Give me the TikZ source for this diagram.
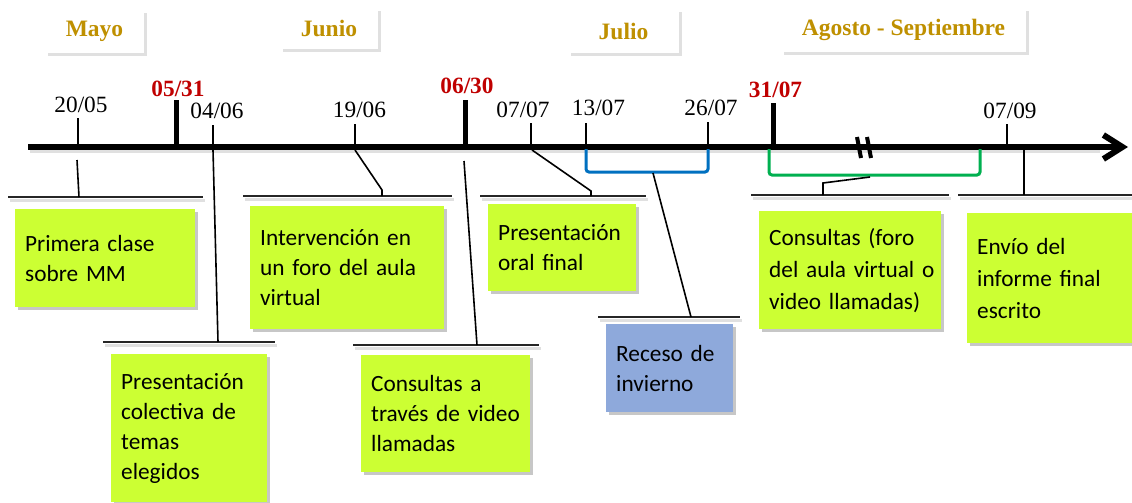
\documentclass[tikz,border=0pt]{standalone}
\usepackage{fontspec}
\setmainfont{Liberation Serif}
\newfontfamily\boxfont{Carlito}
\usetikzlibrary{arrows.meta,shadows}
\definecolor{lime}{RGB}{204,255,51}
\definecolor{receso}{RGB}{142,169,219}
\definecolor{gold}{RGB}{191,144,0}
\definecolor{datered}{RGB}{192,0,0}
\definecolor{brblue}{RGB}{0,112,192}
\definecolor{brgreen}{RGB}{0,176,80}
\begin{document}
\begin{tikzpicture}[x=1pt,y=-1pt,
  softshadow/.style={drop shadow={shadow xshift=3pt,shadow yshift=-3pt,opacity=0.22,fill=black}},
  lightshadow/.style={drop shadow={shadow xshift=3pt,shadow yshift=-3pt,opacity=0.12,fill=black}},
  note/.style={anchor=north west, fill=lime, inner xsep=10pt, inner ysep=0pt, align=left,
    font=\boxfont\fontsize{23.3}{30}\selectfont, softshadow},
  month/.style={fill=white, inner sep=0pt, text=gold,
    font=\bfseries\fontsize{23.5}{28}\selectfont, lightshadow},
  date/.style={inner sep=0pt, font=\fontsize{23.3}{28}\selectfont},
  keydate/.style={inner sep=0pt, text=datered, font=\bfseries\fontsize{23.3}{28}\selectfont},
  tick/.style={line width=2pt},
  keytick/.style={line width=5pt},
  rule/.style={line width=2pt, black!85},
  link/.style={line width=1.6pt},
  bracket/.style={line width=3pt, rounded corners=3pt},
]
\fill[white] (0,0) rectangle (1132,503);
\useasboundingbox (0,0) rectangle (1132,503);

% month headers
\node[month, minimum width=99pt, minimum height=43pt] (mayo) at (94.5,31.5) {Mayo};
\node[month, minimum width=98pt, minimum height=41pt] (junio) at (329,28.5) {Junio};
\node[month, minimum width=111pt, minimum height=44pt] (julio) at (623.5,31) {Julio};
\node[month, minimum width=245pt, minimum height=44pt] (agosto) at (903.5,30) {Agosto - Septiembre};

% timeline
\coordinate (tl0) at (28,147);
\coordinate (tl1) at (1128,147);
\draw[line width=3pt, black!12] (30,151) -- (1100,151);
\draw[line width=6pt, -{Straight Barb[length=19pt,width=24pt]}] (tl0) -- (tl1);

% break mark
\draw[line width=4pt] (857,137) -- (861,158);
\draw[line width=4pt] (867,137) -- (871,158);

% ticks and dates
\foreach \n/\x/\t in {a/78/118, c/213/125, d/355/124, f/531/123, g/586/123, h/708/122, j/1007/124}{
  \coordinate (tk\n) at (\x,147);
  \draw[tick] (tk\n) -- (\x,\t);
}
\foreach \n/\x/\t in {b/176/100, e/465/100, i/773/103}{
  \coordinate (tk\n) at (\x,147);
  \draw[keytick] (tk\n) -- (\x,\t);
}
\node[date] (d2005) at (81,105) {20/05};
\node[keydate] (d0531) at (178,89) {05/31};
\node[date] (d0406) at (217,111) {04/06};
\node[date] (d1906) at (359.5,110) {19/06};
\node[keydate] (d0630) at (467,86) {06/30};
\node[date] (d0707) at (523,109.5) {07/07};
\node[date] (d1307) at (598.5,108) {13/07};
\node[date] (d2607) at (711,108) {26/07};
\node[keydate] (d3107) at (775.5,90) {31/07};
\node[date] (d0709) at (1010,111) {07/09};

% brackets
\draw[bracket, brblue] (586,149) -- (586,172) -- (708,172) -- (708,149);
\draw[bracket, brgreen] (769,149) -- (769,175) -- (980,175) -- (980,149);

% rules above the notes
\foreach \n/\xa/\xb/\y in {1/8/203/197, 2/103/275/342, 3/243/452/196, 4/353/539/345,
  5/480/646/196, 6/598/740/317, 7/751/949/195, 8/958/1132/195}{
  \coordinate (r\n a) at (\xa,\y);
  \coordinate (r\n b) at (\xb,\y);
  \draw[line width=3pt, black!12] (\xa+2,\y+3) -- (\xb+2,\y+3);
  \draw[rule] (r\n a) -- (r\n b);
}

% connector points
\coordinate (c1s) at (77,160);   \coordinate (c1e) at (79,197);
\coordinate (c2s) at (213,150);  \coordinate (c2e) at (218,342);
\coordinate (c3s) at (355,150);  \coordinate (c3m) at (382,190); \coordinate (c3e) at (382,196);
\coordinate (c4s) at (464,161);  \coordinate (c4e) at (477,345);
\coordinate (c5s) at (532,150);  \coordinate (c5m) at (591,191); \coordinate (c5e) at (591,196);
\coordinate (c6s) at (653,173);  \coordinate (c6e) at (691,317);
\coordinate (c7s) at (870,177);  \coordinate (c7m) at (823,183); \coordinate (c7e) at (823,195);
\coordinate (c8s) at (1024,150); \coordinate (c8e) at (1024,195);

\draw[link] (c1s) -- (c1e);
\draw[link] (c2s) -- (c2e);
\draw[link] (c3s) -- (c3m) -- (c3e);
\draw[link] (c4s) -- (c4e);
\draw[link] (c5s) -- (c5m) -- (c5e);
\draw[link] (c6s) -- (c6e);
\draw[link] (c7s) -- (c7m) -- (c7e);
\draw[link] (c8s) -- (c8e);

% notes
\node[note, minimum width=180pt, text width=160pt, minimum height=98pt] (n1) at (15,209)
  {\mbox{Primera clase}\\\mbox{sobre MM}};
\node[note, minimum width=156pt, text width=136pt, minimum height=148pt] (n2) at (111,354)
  {Presentación\\\mbox{colectiva de}\\temas\\elegidos};
\node[note, minimum width=194pt, text width=174pt, minimum height=123pt] (n3) at (250,206)
  {\mbox{Intervención en}\\\mbox{un foro del aula}\\virtual};
\node[note, minimum width=169pt, text width=149pt, minimum height=117pt] (n4) at (361,355)
  {\mbox{Consultas a}\\\mbox{través de video}\\llamadas};
\node[note, minimum width=148pt, text width=128pt, minimum height=87pt] (n5) at (488,204)
  {Presentación\\\mbox{oral final}};
\node[note, fill=receso, minimum width=127pt, text width=107pt, minimum height=88pt] (n6) at (606,324)
  {\mbox{Receso de}\\invierno};
\node[note, font=\boxfont\fontsize{23.3}{32}\selectfont, minimum width=182pt, text width=162pt, minimum height=118pt] (n7) at (759,211)
  {\mbox{Consultas (foro}\\\mbox{del aula virtual o}\\\mbox{video llamadas)}};
\node[note, font=\boxfont\fontsize{23.3}{32}\selectfont, minimum width=175pt, text width=155pt, minimum height=130pt] (n8) at (967,213)
  {\mbox{Envío del}\\\mbox{informe final}\\escrito};
\end{tikzpicture}
\end{document}
